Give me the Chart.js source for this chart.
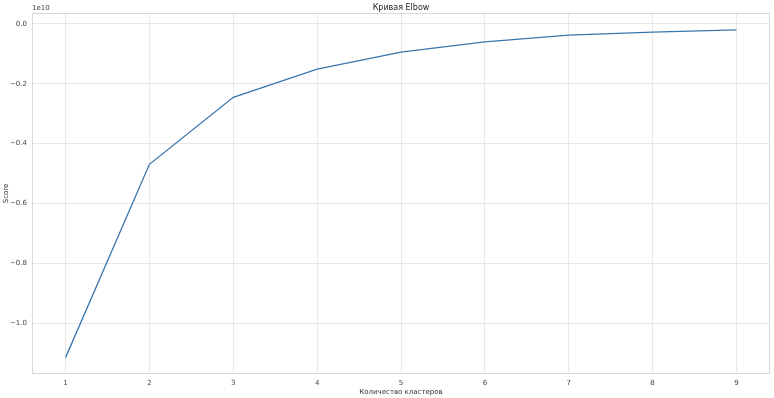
<!DOCTYPE html>
<html>
<head>
<meta charset="utf-8">
<script src="https://cdn.jsdelivr.net/npm/chart.js@4/dist/chart.umd.min.js"></script>
<style>
html,body{margin:0;padding:0;background:#fff;}
#wrap{width:774px;height:398px;position:relative;}
</style>
</head>
<body>
<div id="wrap"><canvas id="c" width="774" height="398"></canvas></div>
<script>
// Data (score in units of 1e10)
const clusters = [1, 2, 3, 4, 5, 6, 7, 8, 9];
const scores = [-1.115, -0.469, -0.245, -0.151, -0.094, -0.060, -0.037, -0.027, -0.020];
const yTicks = [0.0, -0.2, -0.4, -0.6, -0.8, -1.0];
const titleText = 'Кривая Elbow';
const xTitle = 'Количество кластеров';
const yTitle = 'Score';
const offsetText = '1e10';

const FONT = 'DejaVu Sans, Arial, sans-serif';

const overlay = {
  id: 'overlay',
  afterDraw(chart) {
    const ctx = chart.ctx, a = chart.chartArea;
    ctx.save();
    ctx.strokeStyle = '#d9d9d9';
    ctx.lineWidth = 1;
    ctx.strokeRect(a.left + 0.5, a.top + 0.5, a.right - a.left - 1, a.bottom - a.top - 1);
    ctx.fillStyle = '#262626';
    ctx.font = '8px ' + FONT;
    ctx.textAlign = 'center';
    ctx.textBaseline = 'middle';
    ctx.fillText(titleText, (a.left + a.right) / 2, 8);
    ctx.font = '7px ' + FONT;
    ctx.textAlign = 'left';
    ctx.fillStyle = '#444';
    ctx.fillText(offsetText, a.left, 8);
    ctx.restore();
  }
};

new Chart(document.getElementById('c'), {
  type: 'line',
  data: {
    datasets: [{
      data: clusters.map((c, i) => ({x: c, y: scores[i]})),
      borderColor: '#3a75ad',
      borderWidth: 1.3,
      pointRadius: 0,
      tension: 0,
      fill: false
    }]
  },
  options: {
    responsive: false,
    animation: false,
    layout: {padding: {top: 13, right: 4, left: 0, bottom: 0}},
    plugins: {legend: {display: false}, title: {display: false}, tooltip: {enabled: false}},
    scales: {
      x: {
        type: 'linear',
        min: 0.6, max: 9.4,
        afterBuildTicks: s => { s.ticks = clusters.map(v => ({value: v})); },
        afterFit: s => { s.height = 24; },
        grid: {color: '#e8e8e8', lineWidth: 1, drawTicks: false},
        border: {display: false},
        ticks: {font: {size: 7, family: FONT}, color: '#444', padding: 5,
                callback: v => String(v), maxRotation: 0},
        title: {display: true, text: xTitle, font: {size: 7, family: FONT}, color: '#333',
                padding: {top: 0, bottom: 2}}
      },
      y: {
        type: 'linear',
        min: -1.1697, max: 0.0367,
        afterBuildTicks: s => { s.ticks = yTicks.map(v => ({value: v})); },
        afterFit: s => { s.width = 32; },
        grid: {color: '#e8e8e8', lineWidth: 1, drawTicks: false},
        border: {display: false},
        ticks: {font: {size: 7, family: FONT}, color: '#444', padding: 5,
                callback: v => (v < 0 ? '\u2212' : '') + Math.abs(v).toFixed(1)},
        title: {display: true, text: yTitle, font: {size: 7, family: FONT}, color: '#333',
                padding: {top: 2, bottom: 0}}
      }
    }
  },
  plugins: [overlay]
});
</script>
</body>
</html>
